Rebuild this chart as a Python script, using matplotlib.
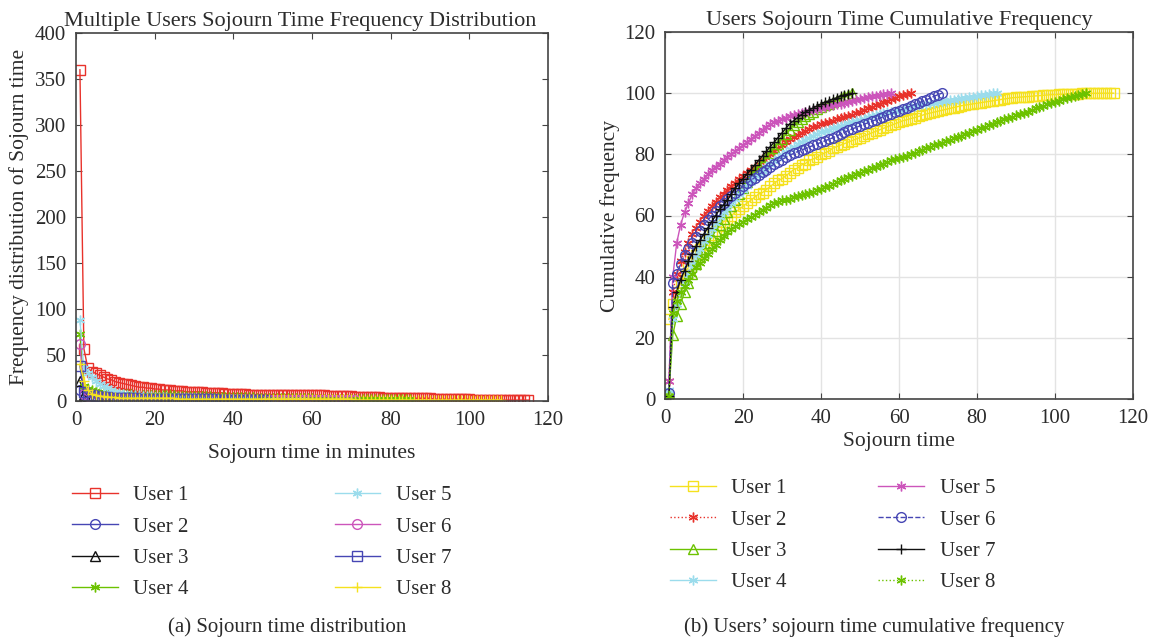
import matplotlib
matplotlib.use("Agg")
import matplotlib.pyplot as plt
import numpy as np

# ---------------------------------------------------------------------------
# Data: (a) frequency of sojourn time per minute, one list per user
# ---------------------------------------------------------------------------
freq_user1 = [360, 57, 36, 32, 30, 28, 26, 24, 23, 21,
              20, 19, 18, 17, 16, 15, 15, 14, 14, 13,
              13, 12, 12, 12, 11, 11, 11, 10, 10, 10,
              10, 10, 9, 9, 9, 9, 9, 8, 8, 8,
              8, 8, 8, 7, 7, 7, 7, 7, 7, 7,
              7, 7, 7, 7, 6, 6, 6, 6, 6, 6,
              6, 6, 6, 5, 5, 5, 5, 5, 5, 5,
              4, 4, 4, 4, 4, 4, 4, 3, 3, 3,
              3, 3, 3, 3, 3, 3, 3, 3, 3, 3,
              2, 2, 2, 2, 2, 2, 2, 2, 2, 2,
              1, 1, 1, 1, 1, 1, 1, 1, 1, 1,
              1, 1, 1, 1, 1]
freq_user2 = [12, 6, 5, 4, 4, 3, 3, 3, 3, 3,
              2, 2, 2, 2, 2, 2, 2, 2, 2, 2,
              2, 2, 2, 2, 2, 1, 1, 1, 1, 1,
              1, 1, 1, 1, 1, 1, 1, 1, 1, 1,
              1, 1, 1, 1, 1, 1, 1, 1, 1, 1,
              1, 1, 1, 1, 1, 1, 1, 1, 1, 1,
              1, 1, 1]
freq_user3 = [22, 6, 5, 4, 4, 3, 3, 3, 3, 3,
              3, 2, 2, 2, 2, 2, 2, 2, 2, 2,
              2, 2, 2, 2, 2, 2, 2, 2, 2, 2,
              2, 2, 1, 1, 1, 1, 1, 1, 1, 1,
              1, 1, 1, 1, 1, 1, 1, 1]
freq_user4 = [73, 16, 13, 12, 11, 10, 10, 9, 9, 9,
              8, 8, 8, 8, 7, 7, 7, 7, 7, 6,
              6, 6, 6, 6, 6, 5, 5, 5, 5, 5,
              5, 5, 5, 5, 4, 4, 4, 4, 4, 4,
              4, 4, 4, 4, 4, 3, 3, 3, 3, 3,
              3, 3, 3, 3, 3, 3, 3, 3, 3, 3,
              2, 2, 2, 2, 2, 2, 2, 2, 2, 2,
              2, 2, 2, 2, 2, 2, 2, 2, 2, 2,
              2, 2, 2, 2, 2]
freq_user5 = [88, 36, 30, 26, 22, 19, 16, 14, 12, 10,
              9, 8, 7, 7, 6, 6, 5, 5, 5, 4,
              4, 4, 4, 3, 3, 3, 3, 3, 3, 3,
              2, 2, 2, 2, 2, 2, 2, 2, 2, 2,
              2, 2, 2, 2, 2, 1, 1, 1, 1, 1,
              1, 1, 1, 1, 1, 1, 1, 1]
freq_user6 = [62, 8, 5, 4, 3, 3, 3, 3, 2, 2,
              2, 2, 2, 2, 2, 2, 2, 2, 2, 2,
              2, 2, 2, 2, 2, 2, 2, 2, 2, 1,
              1, 1, 1, 1, 1, 1, 1, 1, 1, 1,
              1, 1, 1, 1, 1, 1, 1, 1, 1, 1,
              1, 1, 1, 1, 1, 1, 1, 1, 1, 1,
              1, 1, 1, 1, 1, 1, 1, 1, 1, 1,
              1]
freq_user7 = [38, 10, 7, 6, 5, 4, 4, 4, 3, 3,
              3, 3, 3, 3, 3, 2, 2, 2, 2, 2,
              2, 2, 2, 2, 2, 2, 2, 2, 2, 2,
              2, 2, 2, 2, 2, 1, 1, 1, 1, 1,
              1, 1, 1, 1, 1, 1, 1, 1]
freq_user8 = [40, 22, 12, 8, 6, 5, 5, 4, 4, 4,
              3, 3, 3, 3, 3, 3, 3, 3, 3, 3,
              3, 3, 3, 3, 3, 2, 2, 2, 2, 2,
              2, 2, 2, 2, 2, 2, 2, 2, 2, 2,
              2, 2, 2, 2, 2, 2, 2, 2, 2, 2,
              2, 2, 2, 2, 2, 2, 2, 2, 2, 2,
              2, 2, 2, 2, 2, 2, 2, 2, 2, 2,
              1, 1, 1, 1, 1, 1, 1, 1, 1, 1,
              1, 1, 1, 1, 1, 1, 1, 1, 1, 1,
              1, 1, 1, 1, 1, 1, 1, 1, 1, 1,
              1, 1, 1, 1, 1, 1, 1, 1]

# ---------------------------------------------------------------------------
# Data: (b) cumulative frequency (%) per minute, one list per user
# ---------------------------------------------------------------------------
cum_user1 = [26, 31, 35, 38, 41, 43, 45, 47, 49, 50.5,
             52, 53.5, 55, 56.5, 58, 59, 60, 61, 62, 63,
             64, 65, 66, 67, 67.5, 68.5, 69.5, 70.5, 71.5, 72,
             73, 74, 75, 75.5, 76.5, 77, 78, 78.5, 79, 80,
             80.5, 81, 82, 82.5, 83, 83.5, 84, 84.5, 85, 85.5,
             86, 86.5, 87, 87.5, 88, 88.5, 89, 89.5, 90, 90.5,
             91, 91.3, 91.7, 92, 92.4, 92.8, 93.2, 93.5, 93.8, 94.1,
             94.4, 94.7, 95, 95.3, 95.6, 95.9, 96.1, 96.3, 96.5, 96.7,
             96.9, 97.1, 97.3, 97.5, 97.7, 97.9, 98.1, 98.3, 98.5, 98.6,
             98.7, 98.8, 98.9, 99, 99.1, 99.2, 99.3, 99.4, 99.5, 99.55,
             99.6, 99.65, 99.7, 99.75, 99.8, 99.85, 99.9, 99.92, 99.94, 99.96,
             99.97, 99.98, 99.99, 100, 100]
cum_user2 = [6, 35, 41, 45, 48, 51, 54, 56, 58, 60,
             61.5, 63, 64.5, 66, 67, 68.3, 69.5, 70.7, 71.8, 73,
             74, 75, 76, 77, 78, 79, 80, 81, 82, 83,
             84, 85, 85.7, 86.4, 87, 87.6, 88.2, 88.8, 89.3, 89.8,
             90.2, 90.6, 91, 91.4, 91.8, 92.2, 92.6, 93, 93.5, 94,
             94.5, 95, 95.5, 96, 96.5, 97, 97.5, 98, 98.5, 99,
             99.4, 99.7, 100]
cum_user3 = [2, 21, 27, 31, 35, 38, 41, 44, 46.5, 49,
             51, 53, 55, 57, 59, 61, 63, 65, 67, 69,
             71, 73, 74.5, 76, 77.5, 79, 80.5, 82, 83.5, 85,
             86.5, 88, 89.5, 90.5, 91.5, 92.5, 93.3, 94, 94.7, 95.4,
             96, 96.6, 97.2, 97.8, 98.4, 99, 99.5, 100]
cum_user4 = [3, 26, 31, 35, 38, 41, 44, 47, 49, 51.5,
             53.5, 55.5, 57.5, 59.5, 61, 62.5, 64, 65.5, 67, 68.3,
             69.6, 71, 72.2, 73.4, 74.6, 75.7, 76.8, 77.8, 78.8, 79.8,
             80.7, 81.6, 82.5, 83.3, 84.1, 84.8, 85.5, 86.1, 86.7, 87.2,
             87.7, 88.1, 88.5, 88.9, 89.3, 89.7, 90.1, 90.5, 90.9, 91.3,
             91.7, 92.1, 92.5, 92.8, 93.1, 93.4, 93.7, 94, 94.3, 94.6,
             94.9, 95.2, 95.5, 95.8, 96.1, 96.3, 96.5, 96.7, 96.9, 97.1,
             97.3, 97.5, 97.7, 97.9, 98.1, 98.3, 98.5, 98.7, 98.9, 99.1,
             99.3, 99.5, 99.7, 99.9, 100]
cum_user5 = [6, 40, 51, 57, 61, 64, 67, 69, 70.5, 72,
             73.5, 75, 76, 77, 78, 79, 80, 81, 82, 83,
             84, 85, 86, 87, 88, 89, 89.8, 90.5, 91, 91.5,
             92, 92.5, 93, 93.3, 93.6, 93.9, 94.2, 94.5, 94.8, 95.1,
             95.4, 95.7, 96, 96.3, 96.6, 96.9, 97.2, 97.5, 97.8, 98.1,
             98.4, 98.7, 99, 99.2, 99.4, 99.6, 99.8, 100]
cum_user6 = [2, 38, 41, 44, 47, 49, 51, 53, 55, 57,
             58.5, 60, 61.5, 63, 64, 65.3, 66.5, 67.5, 68.5, 69.5,
             70.5, 71.5, 72.4, 73.3, 74.2, 75, 76, 76.8, 77.6, 78.3,
             79, 79.7, 80.3, 80.9, 81.4, 81.9, 82.4, 82.9, 83.4, 83.9,
             84.4, 84.9, 85.4, 86, 86.6, 87.2, 87.8, 88.3, 88.8, 89.3,
             89.8, 90.3, 90.8, 91.3, 91.8, 92.3, 92.8, 93.3, 93.8, 94.3,
             94.8, 95.3, 95.8, 96.3, 96.8, 97.3, 97.8, 98.4, 99, 99.5,
             100]
cum_user7 = [1, 30, 35, 39, 42, 45, 47.5, 50, 52, 54,
             56, 58, 60, 62, 63.5, 65, 67, 69, 70.5, 72,
             73.5, 75, 76.5, 78, 79.5, 81, 82.5, 84, 85.5, 87,
             88.5, 90, 91, 92, 93, 93.8, 94.5, 95.2, 95.8, 96.4,
             97, 97.5, 98, 98.5, 99, 99.4, 99.7, 100]
cum_user8 = [1, 28, 32, 35, 37, 39, 41, 43, 44.5, 46,
             47.5, 49, 50.5, 52, 53.3, 54.5, 55.5, 56.5, 57.3, 58,
             58.8, 59.5, 60.3, 61, 61.8, 62.5, 63.3, 64, 64.5, 65,
             65.2, 65.5, 65.9, 66.3, 66.6, 67, 67.4, 67.8, 68.2, 68.7,
             69.2, 69.7, 70.3, 71, 71.5, 72, 72.5, 73, 73.5, 74,
             74.5, 75, 75.5, 76, 76.5, 77, 77.5, 78, 78.4, 78.8,
             79.2, 79.6, 80, 80.5, 81, 81.5, 82, 82.5, 83, 83.4,
             83.8, 84.3, 84.8, 85.2, 85.6, 86.1, 86.6, 87, 87.5, 88,
             88.5, 89, 89.5, 90, 90.5, 91, 91.4, 91.8, 92.2, 92.7,
             93.1, 93.6, 94, 94.5, 95, 95.5, 95.9, 96.3, 96.7, 97.1,
             97.5, 98, 98.4, 98.8, 99.2, 99.5, 99.8, 100]

user_labels = ["User 1", "User 2", "User 3", "User 4",
               "User 5", "User 6", "User 7", "User 8"]

# ---------------------------------------------------------------------------
# Styles
# ---------------------------------------------------------------------------
RED = "#E8322B"
BLUE = "#4646B4"
BLACK = "#111111"
GREEN = "#6CC200"
CYAN = "#9BDCEC"
MAGENTA = "#CC55BB"
YELLOW = "#F5E11E"
AX_GREY = "#444444"
TXT = "#2b2b2b"
AST = (6, 2, 0)   # MATLAB-like asterisk

left_series = [freq_user1, freq_user2, freq_user3, freq_user4,
               freq_user5, freq_user6, freq_user7, freq_user8]
left_styles = [(RED, "s", "-"), (BLUE, "o", "-"), (BLACK, "^", "-"),
               (GREEN, AST, "-"), (CYAN, AST, "-"), (MAGENTA, "o", "-"),
               (BLUE, "s", "-"), (YELLOW, "+", "-")]

right_series = [cum_user1, cum_user2, cum_user3, cum_user4,
                cum_user5, cum_user6, cum_user7, cum_user8]
right_styles = [(YELLOW, "s", "-"), (RED, AST, ":"), (GREEN, "^", "-"),
                (CYAN, AST, "-"), (MAGENTA, AST, "-"), (BLUE, "o", "--"),
                (BLACK, "+", "-"), (GREEN, AST, ":")]

plt.rcParams.update({
    "font.family": ["Liberation Serif", "DejaVu Serif"],
    "font.size": 15,
    "text.color": TXT,
    "axes.labelcolor": TXT,
    "xtick.color": AX_GREY, "ytick.color": AX_GREY,
    "xtick.labelcolor": TXT, "ytick.labelcolor": TXT,
    "xtick.direction": "in", "ytick.direction": "in",
    "xtick.top": True, "ytick.right": True,
    "xtick.major.size": 4, "ytick.major.size": 4,
    "axes.edgecolor": AX_GREY, "axes.linewidth": 1.2,
})

W, H = 1159, 642
fig = plt.figure(figsize=(W / 100, H / 100), dpi=100)
ax1 = fig.add_axes([76 / W, 1 - 401 / H, (548 - 76) / W, (401 - 33) / H])
ax2 = fig.add_axes([665 / W, 1 - 399 / H, (1133 - 665) / W, (399 - 32) / H])


def draw(ax, series, styles):
    for vals, (c, m, ls), lab in zip(series, styles, user_labels):
        x = np.arange(1, len(vals) + 1)
        ax.plot(x, vals, color=c, marker=m, linestyle=ls, linewidth=1.0,
                markersize=7, markerfacecolor="none", markeredgecolor=c,
                markeredgewidth=1.0, label=lab)


leg_kw = dict(ncol=2, frameon=False, fontsize=15, handlelength=2.2,
              handletextpad=0.75, labelspacing=0.56, borderpad=0.4,
              loc="upper left", bbox_transform=fig.transFigure)

# (a) frequency distribution
draw(ax1, left_series, left_styles)
ax1.set_xlim(0, 120)
ax1.set_ylim(0, 400)
ax1.set_xticks(np.arange(0, 121, 20))
ax1.set_yticks(np.arange(0, 401, 50))
ax1.set_title("Multiple Users Sojourn Time Frequency Distribution",
              fontsize=16, pad=5, x=(300 - 76) / (548 - 76))
ax1.set_xlabel("Sojourn time in minutes", fontsize=15.5, labelpad=10)
ax1.set_ylabel("Frequency distribution of Sojourn time", fontsize=15.5,
               labelpad=4)
ax1.legend(bbox_to_anchor=(53 / W, 1 - 467 / H), columnspacing=7.0, **leg_kw)

# (b) cumulative frequency
draw(ax2, right_series, right_styles)
ax2.set_xlim(0, 120)
ax2.set_ylim(0, 120)
ax2.set_xticks(np.arange(0, 121, 20))
ax2.set_yticks(np.arange(0, 121, 20))
ax2.grid(True, color="#e3e3e3", linewidth=1.0)
ax2.set_axisbelow(True)
ax2.set_title("Users Sojourn Time Cumulative Frequency", fontsize=16, pad=5)
ax2.set_xlabel("Sojourn time", fontsize=15.5, labelpad=3)
ax2.set_ylabel("Cumulative frequency", fontsize=15.5, labelpad=3)
ax2.legend(bbox_to_anchor=(651 / W, 1 - 460 / H), columnspacing=4.4, **leg_kw)

for ax in (ax1, ax2):
    ax.tick_params(labelsize=15, pad=7)

fig.text(287 / W, 1 - 627 / H, "(a) Sojourn time distribution", ha="center",
         va="center", fontsize=15)
fig.text(874 / W, 1 - 627 / H, "(b) Users\u2019 sojourn time cumulative frequency",
         ha="center", va="center", fontsize=15)

fig.savefig("out.png", dpi=100)
